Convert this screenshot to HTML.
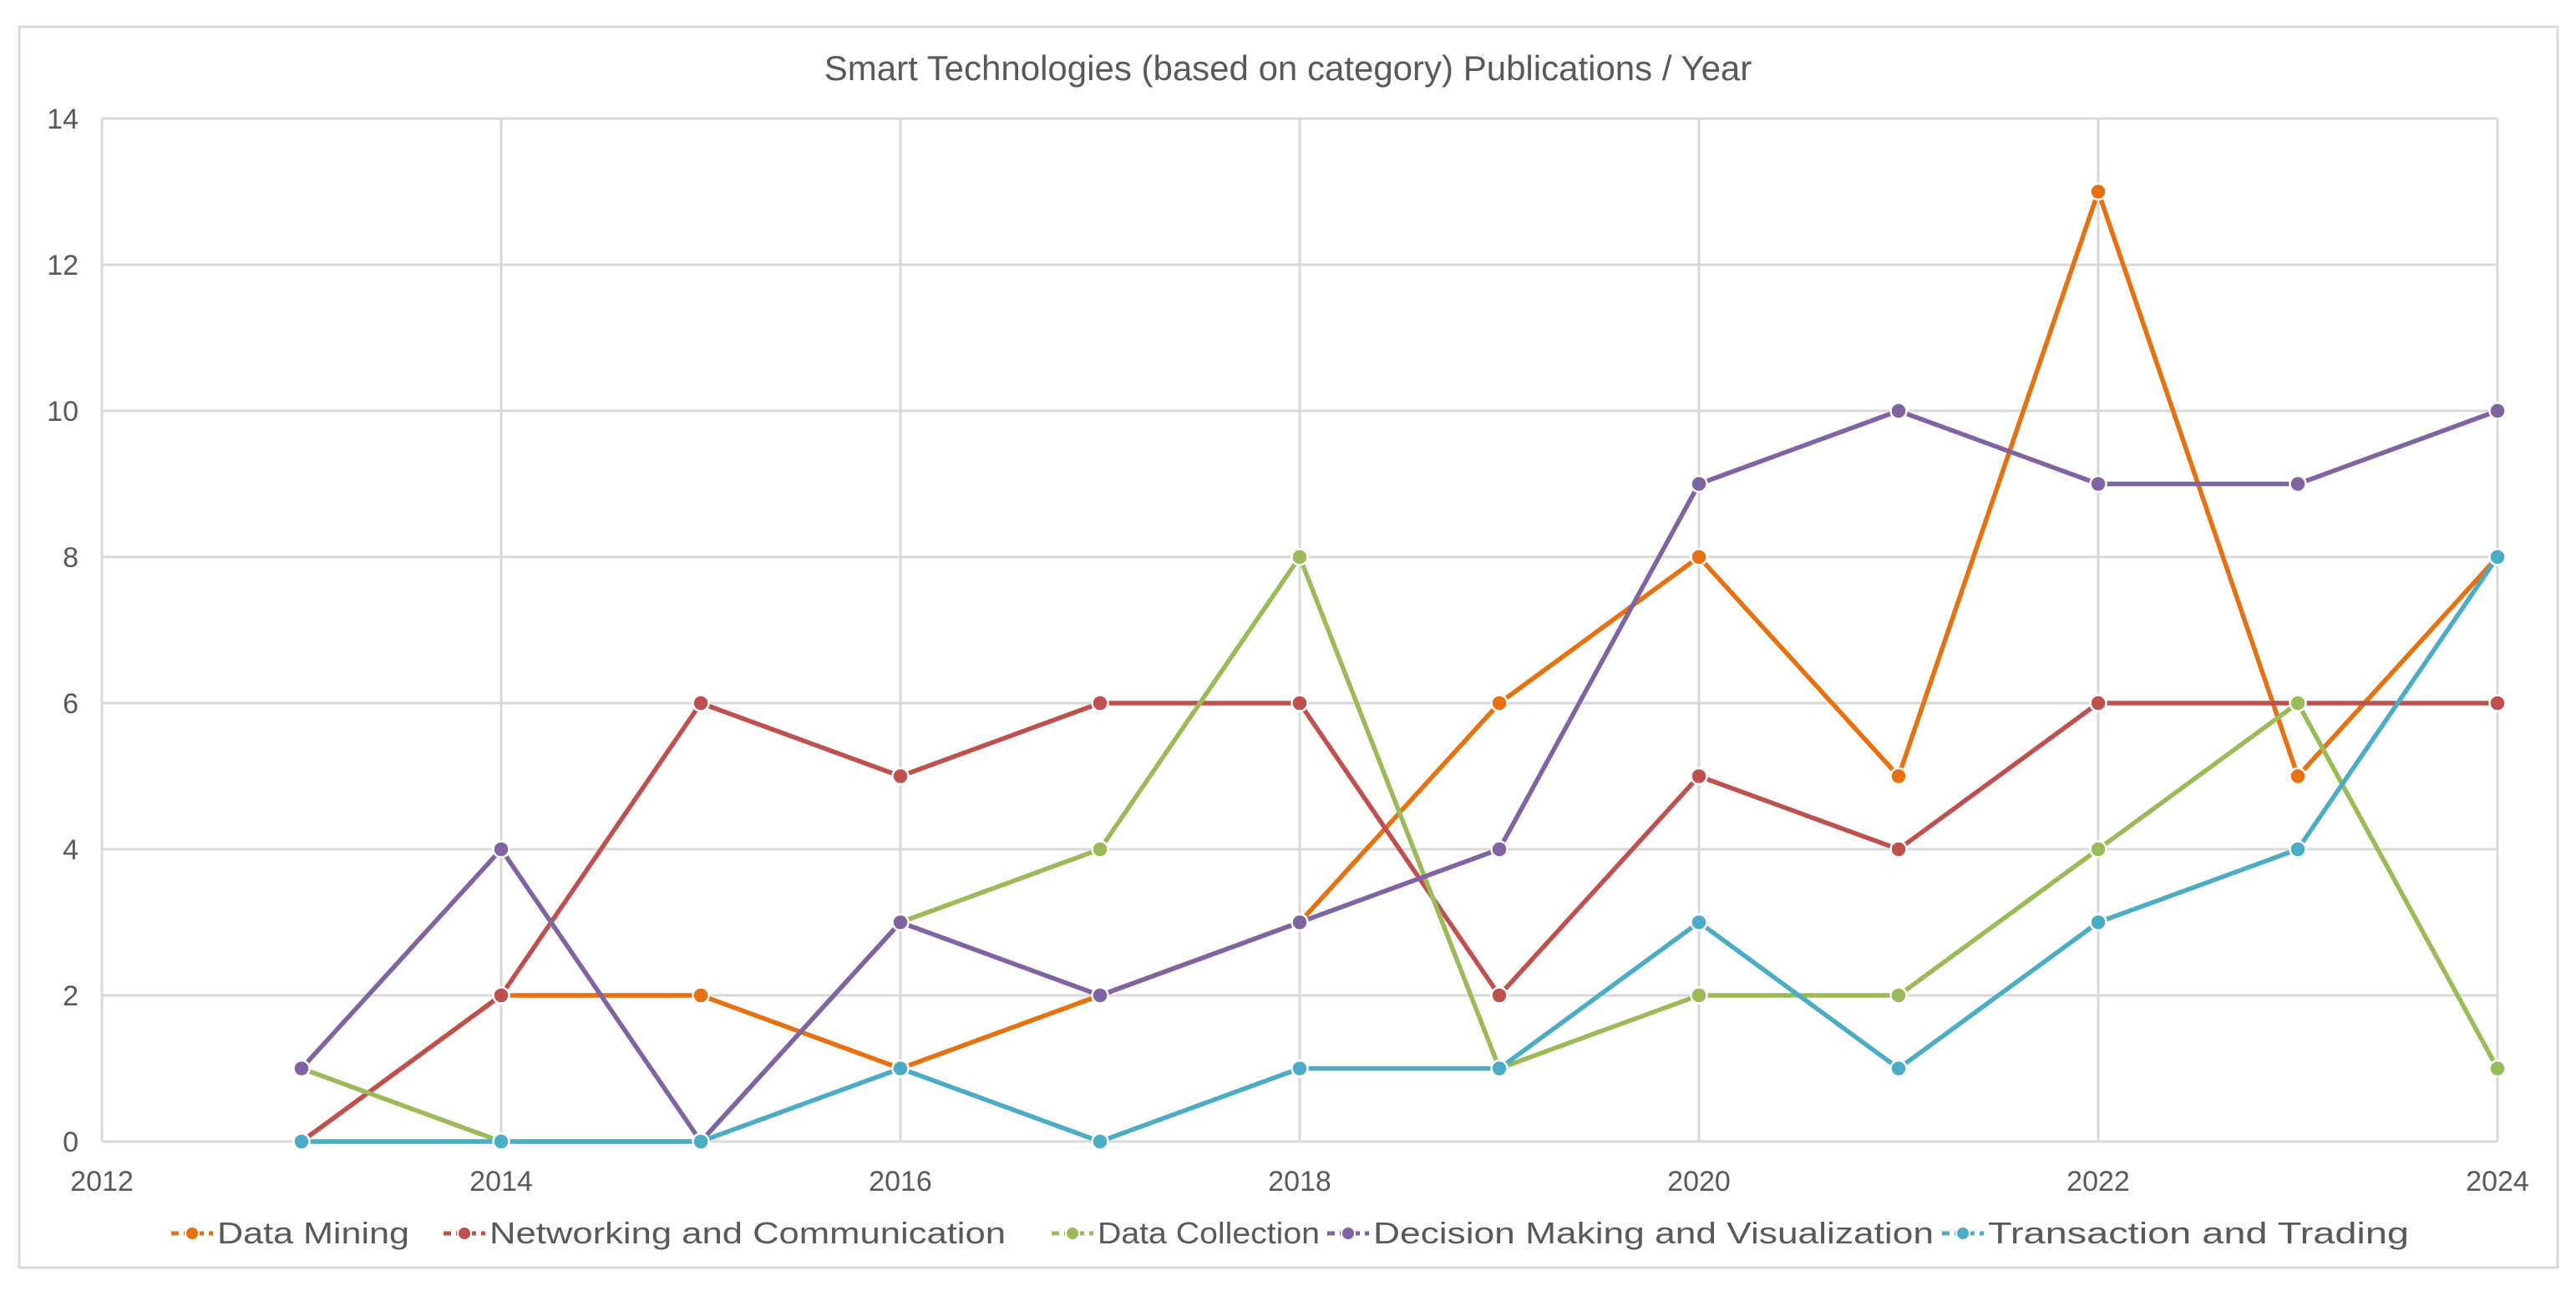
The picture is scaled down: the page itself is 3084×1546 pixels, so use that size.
<!DOCTYPE html>
<html><head><meta charset="utf-8"><style>
html,body{margin:0;padding:0;background:#fff;}
svg{display:block;font-family:"Liberation Sans",sans-serif;}
</style></head><body>
<svg id="chart" width="3084" height="1546" viewBox="0 0 3084 1546">
<rect x="23" y="32" width="3039" height="1486" fill="#fff" stroke="#d9d9d9" stroke-width="3"/>
<text x="1542" y="96" text-anchor="middle" font-size="42" fill="#595959">Smart Technologies (based on category) Publications / Year</text>
<g id="grid"></g><g id="axes"></g><g id="series"></g><g id="legend"></g>
</svg>
<script>
const years=[2013,2014,2015,2016,2017,2018,2019,2020,2021,2022,2023,2024];
const dataMining=[0,2,2,1,2,3,6,8,5,13,5,8];
const networking=[0,2,6,5,6,6,2,5,4,6,6,6];
const dataCollection=[1,0,0,3,4,8,1,2,2,4,6,1];
const decisionMaking=[1,4,0,3,2,3,4,9,10,9,9,10];
const transaction=[0,0,0,1,0,1,1,3,1,3,4,8];
const xTicks=[2012,2014,2016,2018,2020,2022,2024];
const yTicks=[0,2,4,6,8,10,12,14];
const seriesNames=["Data Mining","Networking and Communication","Data Collection","Decision Making and Visualization","Transaction and Trading"];
const NS="http://www.w3.org/2000/svg";
const L=122,R=2990,T=142,B=1367;
const xs=v=>L+(v-2012)/(2024-2012)*(R-L);
const ys=v=>B-v/14*(B-T);
function mk(tag,attrs,parent){const e=document.createElementNS(NS,tag);for(const k in attrs)e.setAttribute(k,attrs[k]);parent.appendChild(e);return e;}
const grid=document.getElementById('grid'),axes=document.getElementById('axes'),sg=document.getElementById('series'),lg=document.getElementById('legend');
yTicks.forEach(v=>{
 const l=mk('line',{x1:L,x2:R,y1:ys(v),y2:ys(v),stroke:'#d9d9d9','stroke-width':3},grid);
 
 
 const t=mk('text',{x:L-28,y:ys(v)+12,'text-anchor':'end','font-size':34,fill:'#595959'},axes);
 t.textContent=v;
 
 
});
xTicks.forEach(v=>{
 const l=mk('line',{x1:xs(v),x2:xs(v),y1:T,y2:B,stroke:'#d9d9d9','stroke-width':3},grid);
 
 
 const t=mk('text',{x:xs(v),y:1426,'text-anchor':'middle','font-size':34,fill:'#595959'},axes);
 t.textContent=v;
 
 
});
const all=[dataMining,networking,dataCollection,decisionMaking,transaction];
const colors=["#E8700E","#C0504D","#9BBB59","#8064A2","#4BACC6"];
const keys=["data-mining","networking","data-collection","decision-making","transaction"];
all.forEach((arr,i)=>{
 const g=mk('g',{},sg);
 
 
 const pts=arr.map((v,j)=>xs(years[j])+','+ys(v)).join(' ');
 const pl=mk('polyline',{points:pts,fill:'none',stroke:colors[i],'stroke-width':5.5,'stroke-linejoin':'round'},g);
 
 
 arr.forEach((v,j)=>{
  const c=mk('circle',{cx:xs(years[j]),cy:ys(v),r:9.5,fill:colors[i],stroke:'#fff','stroke-width':2.5},g);
  
  
 });
});
const lx=[205,531,1259,1589,2325];
const lw=[230,618,266,671,504];
seriesNames.forEach((n,i)=>{
 const g=mk('g',{},lg);
 
 
 mk('line',{x1:lx[i],x2:lx[i]+50,y1:1477,y2:1477,stroke:colors[i],'stroke-width':5,'stroke-dasharray':'9 6'},g);
 mk('circle',{cx:lx[i]+25,cy:1477,r:8,fill:colors[i],stroke:'#fff','stroke-width':2},g);
 const t=mk('text',{x:lx[i]+55,y:1489,'font-size':36,fill:'#595959',textLength:lw[i],lengthAdjust:'spacingAndGlyphs'},g);
 t.textContent=n;
 
 
});
</script>
</body></html>
